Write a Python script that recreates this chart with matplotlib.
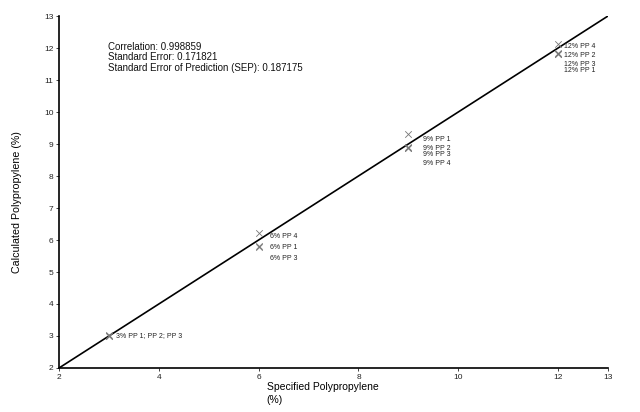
import matplotlib
matplotlib.use("Agg")
import matplotlib.pyplot as plt

plt.rcParams['font.family'] = ['Liberation Sans', 'DejaVu Sans']

# Data
specified = [3, 3, 3, 6, 6, 6, 9, 9, 9, 9, 12, 12, 12, 12]
calculated = [3.02, 3.00, 3.01, 6.22, 5.78, 5.80, 9.30, 8.88, 8.90, 8.86,
              12.13, 11.82, 11.80, 11.83]

# Label groups: (x, y anchor, lines)
group_x = [3, 6, 9, 12]
group_y = [3.02, 6.22, 9.30, 12.13]
group_labels = [
    ["3% PP 1; PP 2; PP 3"],
    ["6% PP 4", "6% PP 1", "6% PP 3"],
    ["9% PP 1", "9% PP 2", "9% PP 3", "9% PP 4"],
    ["12% PP 4", "12% PP 2", "12% PP 3", "12% PP 1"],
]
stats_lines = ["Correlation: 0.998859",
               "Standard Error: 0.171821",
               "Standard Error of Prediction (SEP): 0.187175"]
x_ticks = [2, 4, 6, 8, 10, 12, 13]
y_ticks = list(range(2, 14))
line_x = [2, 13]
line_y = [2, 13]

fig = plt.figure(figsize=(6.4, 4.12), dpi=100)
ax = fig.add_axes([59/640, 1-368/412, (608-59)/640, (368-16)/412])

ax.plot(line_x, line_y, color='black', lw=1.2, zorder=2)
ax.scatter(specified, calculated, marker='x', s=22, color='#777777',
           linewidths=0.6, zorder=3)

# label offsets in pixels (dx, list of dy)
offsets = [
    (7, [0]),
    (11, [-4, -15, -26]),
    (15, [-5, -14, -20, -29]),
    (6, [-3, -12, -21, -27]),
]
for gx, gy, labels, (dx, dys) in zip(group_x, group_y, group_labels, offsets):
    for lab, dy in zip(labels, dys):
        ax.annotate(lab, xy=(gx, gy), xytext=(dx*0.72, dy*0.72),
                    textcoords='offset points', fontsize=5, color='#222222',
                    ha='left', va='center')

ax.text(108/640, 1-57.5/412, "\n".join(stats_lines), transform=fig.transFigure,
        fontsize=7, ha='left', va='center', linespacing=1.1, color='#111111')

ax.set_xlim(2, 13)
ax.set_ylim(2, 13)
ax.set_xticks(x_ticks)
ax.set_yticks(y_ticks)
ax.tick_params(labelsize=6, length=2.5, width=0.6, pad=1.5, colors='#222222')
for s in ['top', 'right']:
    ax.spines[s].set_visible(False)
for s in ['left', 'bottom']:
    ax.spines[s].set_linewidth(1.2)

fig.text(322.5/640, 1-382/412, "Specified Polypropylene\n(%)", fontsize=7.5,
         ha='center', va='top', multialignment='left', linespacing=1.4)
fig.text(17.5/640, 1-202/412, "Calculated Polypropylene (%)", fontsize=7.7,
         rotation=90, ha='center', va='center')

fig.savefig("out.png", dpi=100)
